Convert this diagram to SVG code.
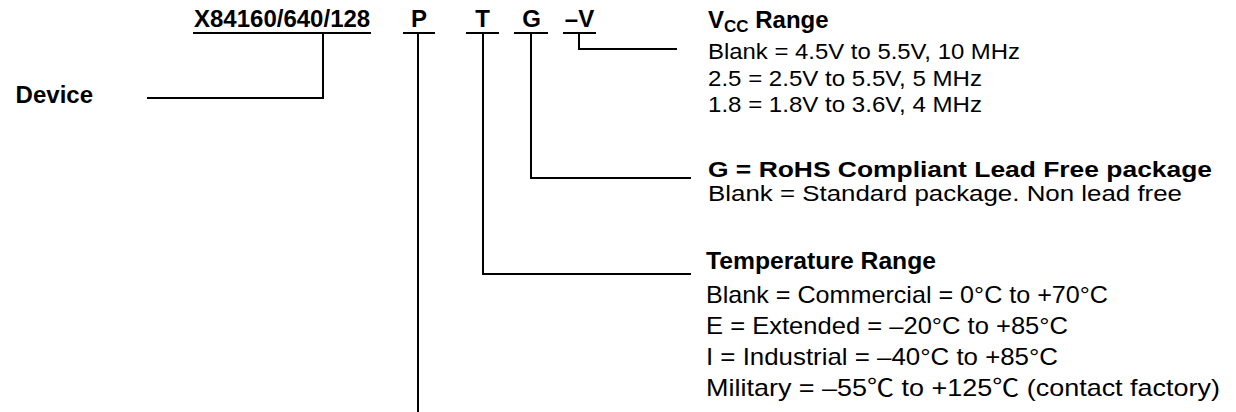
<svg xmlns="http://www.w3.org/2000/svg" width="1236" height="412" viewBox="0 0 1236 412">
<style>
text{font-family:"Liberation Sans",Arial,Helvetica,"DejaVu Sans",sans-serif;fill:#000}
.b{font-weight:bold}
.ln{stroke:#000;stroke-width:2;fill:none}
.cj{font-family:"Noto Sans CJK SC","Noto Sans CJK JP",sans-serif}
</style>
<rect width="1236" height="412" fill="#fff"/>
<g id="part-number">
<text class="b" x="194" y="27" font-size="24">X84160/640/128</text>
<text class="b" x="419" y="27" font-size="24" text-anchor="middle">P</text>
<text class="b" x="482.5" y="27" font-size="24" text-anchor="middle">T</text>
<text class="b" x="531.5" y="27" font-size="24" text-anchor="middle">G</text>
<text class="b" x="579.5" y="27" font-size="24" text-anchor="middle">–V</text>
</g>
<g id="connectors">
<path class="ln" d="M193 33H371M403 33H435M466 33H499M514 33H548M563 33H596"/>
<path class="ln" d="M323 33V98H147"/>
<path class="ln" d="M418 33V412"/>
<path class="ln" d="M483 33V274H691"/>
<path class="ln" d="M531 33V178H691"/>
<path class="ln" d="M579 33V49H677"/>
</g>
<g id="device">
<text class="b" x="93" y="103" font-size="24" text-anchor="end">Device</text>
</g>
<g id="vcc">
<text class="b" x="708" y="28" font-size="24">V<tspan font-size="17" dy="4">CC</tspan><tspan dy="-4"> Range</tspan></text>
<text x="708" y="59" font-size="22" textLength="312" lengthAdjust="spacingAndGlyphs">Blank = 4.5V to 5.5V, 10 MHz</text>
<text x="708" y="86" font-size="22" textLength="274" lengthAdjust="spacingAndGlyphs">2.5 = 2.5V to 5.5V, 5 MHz</text>
<text x="708" y="112" font-size="22" textLength="274" lengthAdjust="spacingAndGlyphs">1.8 = 1.8V to 3.6V, 4 MHz</text>
</g>
<g id="package">
<text class="b" x="708" y="177" font-size="21.5" textLength="504" lengthAdjust="spacingAndGlyphs">G = RoHS Compliant Lead Free package</text>
<text x="708" y="201" font-size="21.5" textLength="474" lengthAdjust="spacingAndGlyphs">Blank = Standard package. Non lead free</text>
</g>
<g id="temperature">
<text class="b" x="706" y="269" font-size="23.5" textLength="230" lengthAdjust="spacingAndGlyphs">Temperature Range</text>
<text x="706" y="303" font-size="24" textLength="402" lengthAdjust="spacingAndGlyphs">Blank = Commercial = 0°C to +70°C</text>
<text x="706" y="334" font-size="24" textLength="362" lengthAdjust="spacingAndGlyphs">E = Extended = –20°C to +85°C</text>
<text x="706" y="365" font-size="24" textLength="352" lengthAdjust="spacingAndGlyphs">I = Industrial = –40°C to +85°C</text>
<text x="706" y="396" font-size="24" textLength="514" lengthAdjust="spacingAndGlyphs">Military = –55<tspan class="cj">℃</tspan> to +125<tspan class="cj">℃</tspan> (contact factory)</text>
</g>
</svg>
